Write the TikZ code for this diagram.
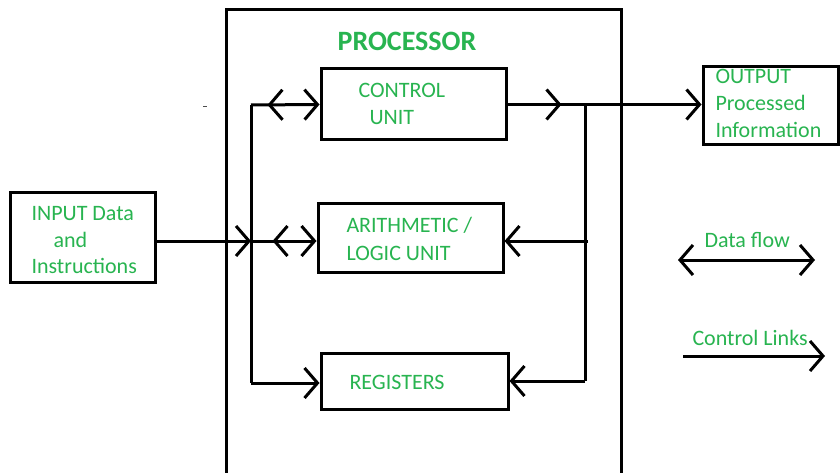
\documentclass[tikz,border=0pt]{standalone}
\usepackage{fontspec}
\setmainfont{Carlito}
\usetikzlibrary{arrows.meta,decorations.markings}
\definecolor{txtgreen}{RGB}{40,180,80}
\begin{document}
\begin{tikzpicture}[x=1pt,y=-1pt,
  line width=3pt,
  >={Straight Barb[length=13pt,width=30pt]},
  box/.style={draw, rectangle, inner sep=0pt, line width=3pt},
  txt/.style={text=txtgreen, font=\fontsize{22}{27}\selectfont, inner sep=0pt, anchor=base west},
  backmark/.style={postaction={decorate}, decoration={markings, mark=at position #1 with {\arrow{<}}}},
  fwdmark/.style={postaction={decorate}, decoration={markings, mark=at position #1 with {\arrow{>}}}}
]
\useasboundingbox (0,0) rectangle (840,473);
\clip (0,0) rectangle (840,473);
\fill[white] (0,0) rectangle (840,473);

% boxes
\node[box, minimum width=395pt, minimum height=490pt] (proc) at (423.5,255) {};
\node[box, minimum width=185pt, minimum height=71pt] (cu) at (413.5,104.5) {};
\node[box, minimum width=185pt, minimum height=69pt] (alu) at (410.5,237.5) {};
\node[box, minimum width=187pt, minimum height=56pt] (reg) at (414.5,381) {};
\node[box, minimum width=135pt, minimum height=78pt] (out) at (770.5,106) {};
\node[box, minimum width=145pt, minimum height=89pt] (in) at (82.5,237.5) {};

% texts
\node[text=txtgreen, font=\bfseries\fontsize{28}{34}\selectfont, inner sep=0pt, anchor=base] (ptitle) at (407,51) {PROCESSOR};
\node[txt] (cu1) at (357,98) {CONTROL};
\node[txt] (cu2) at (368,125) {UNIT};
\node[txt] (alu1) at (345,233) {ARITHMETIC /};
\node[txt] (alu2) at (345,260) {LOGIC UNIT};
\node[txt] (reg1) at (348,389) {REGISTERS};
\node[txt] (out1) at (714,84) {OUTPUT};
\node[txt] (out2) at (714,111) {Processed};
\node[txt] (out3) at (714,138) {Information};
\node[txt] (in1) at (30,220) {INPUT Data};
\node[txt] (in2) at (52,247) {and};
\node[txt] (in3) at (30,273) {Instructions};
\node[txt] (dflab) at (703,247) {Data flow};
\node[txt] (cllab) at (691,345) {Control Links};

% bus coordinates
\coordinate (lbt) at (251,105);
\coordinate (lbm) at (251,241);
\coordinate (lbb) at (251,383);
\coordinate (rbt) at (585,105);
\coordinate (rbm) at (588,241);
\coordinate (rbb) at (585,381);

% left bus
\draw (lbt) -- (lbb);
\draw[->, backmark=33pt] (lbt) -- (cu.west);
\draw[->, backmark=38pt] (lbm) -- (lbm -| alu.west);
\draw[->] (lbb) -- (lbb -| reg.west);
\draw[->] (lbm -| in.east) -- (lbm);

% right side
\draw[->, fwdmark=54pt] (cu.east) -- (cu.east -| out.west);
\draw (rbt) -- (rbb);
\draw[->] (rbb) -- (reg.east);
\draw[->] (rbm) -- (rbm -| alu.east);

% stray mark
\draw[line width=1pt, black!70] (203,107) -- (207,107);

% legend
\coordinate (df1) at (678,260);
\coordinate (df2) at (815,260);
\draw[<->] (df1) -- (df2);
\coordinate (cl1) at (683,356);
\coordinate (cl2) at (825,356);
\draw[->] (cl1) -- (cl2);
\end{tikzpicture}
\end{document}
